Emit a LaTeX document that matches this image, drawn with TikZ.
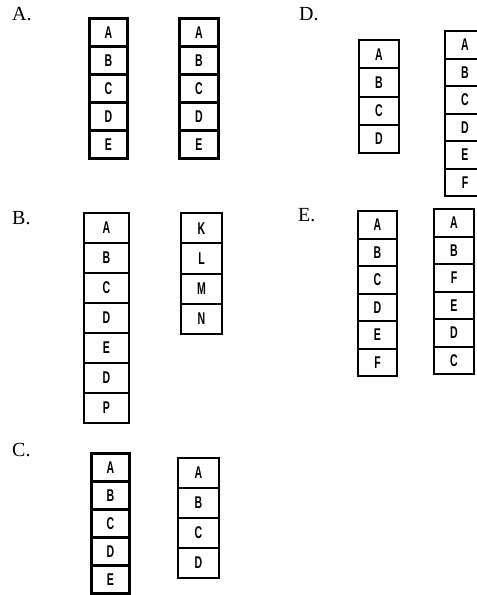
\documentclass[tikz,border=0pt]{standalone}
\usepackage{fontspec}
\usepackage{graphicx}
\setmainfont{Liberation Serif}
\newfontfamily\handfont{Liberation Sans}
\usetikzlibrary{positioning}

% narrow hand-lettered look
\newcommand{\narrowlbl}[1]{\scalebox{0.62}[1]{#1}}

% one column of letter cells: [style] name, left x, top y, width, cell height, letters
\newcommand{\cellstack}[7][]{%
  \foreach \lbl [count=\i] in {#7} {
    \node[cell, #1, minimum width=#5, minimum height=#6, anchor=north west]
      (#2-\i) at (#3, {#4+(\i-1)*#6}) {\narrowlbl{\lbl}};
  }
}

\begin{document}
\begin{tikzpicture}[
    x=1pt, y=-1pt,
    cell/.style={rectangle, draw=black, line width=2pt, inner sep=0pt,
      font=\handfont\bfseries\fontsize{17}{17}\selectfont},
    heavy/.style={line width=2.8pt},
    part/.style={anchor=north west, inner sep=0pt, font=\fontsize{20}{20}\selectfont}
]
\useasboundingbox (0,0) rectangle (477,595);

% part labels
\node[part] (pa) at (12,7) {A.};
\node[part] (pb) at (12,211) {B.};
\node[part] (pc) at (12,443) {C.};
\node[part] (pd) at (299,7) {D.};
\node[part] (pe) at (298,208) {E.};

% A
\cellstack[heavy]{a1}{88}{17}{38}{28}{A,B,C,D,E}
\cellstack[heavy]{a2}{178}{17}{39}{28}{A,B,C,D,E}

% B
\cellstack{b1}{83}{212}{45}{30}{A,B,C,D,E,D,P}
\cellstack{b2}{180}{212}{41}{30.3}{K,L,M,N}

% C
\cellstack[heavy]{c1}{90}{452}{38}{28}{A,B,C,D,E}
\cellstack{c2}{177}{457}{41}{30}{A,B,C,D}

% D
\cellstack{d1}{358}{39}{40}{28.3}{A,B,C,D}
\cellstack{d2}{444}{30}{40}{27.5}{A,B,C,D,E,F}

% E
\cellstack{e1}{357}{210}{39}{27.5}{A,B,C,D,E,F}
\cellstack{e2}{433}{208}{40}{27.5}{A,B,F,E,D,C}
\end{tikzpicture}
\end{document}
